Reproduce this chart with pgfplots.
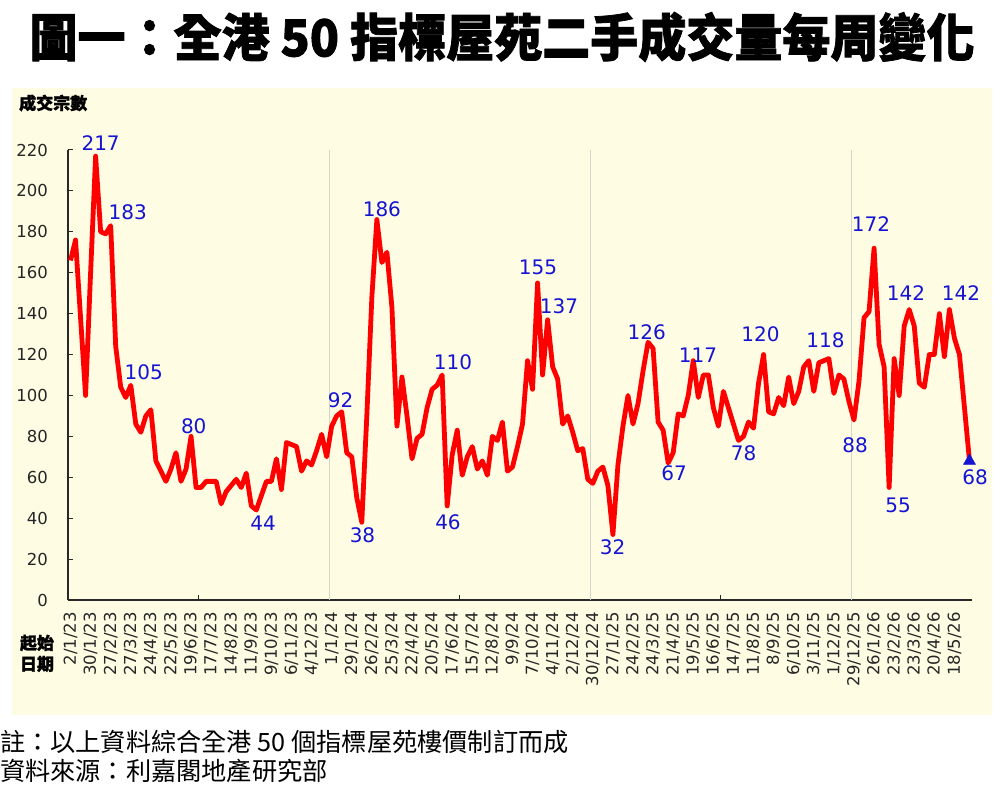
\documentclass[border=0pt]{standalone}
\usepackage{pgfplots}
\pgfplotsset{compat=1.18}
\usepackage{fontspec}
\setmainfont{DejaVu Sans}
\newfontfamily\cjk[BoldFeatures={FakeBold=1.5}]{Noto Sans CJK TC}
\newfontfamily\num{DejaVu Sans}
\definecolor{bgyellow}{RGB}{255,252,228}
\definecolor{lblue}{RGB}{20,20,210}
\definecolor{gridgray}{RGB}{212,212,200}
\definecolor{axisdark}{RGB}{40,40,40}

% weekly transaction counts, week 0 = 2/1/23
\pgfplotstableread{
w v
0 166
1 176
2 138
3 100
4 160
5 217
6 180
7 179
8 183
9 124
10 104
11 99
12 105
13 86
14 82
15 90
16 93
17 68
18 63
19 58
20 64
21 72
22 58
23 64
24 80
25 55
26 55
27 58
28 58
29 58
30 47
31 53
32 56
33 59
34 55
35 62
36 46
37 44
38 51
39 58
40 58
41 69
42 54
43 77
44 76
45 75
46 63
47 68
48 66
49 73
50 81
51 70
52 85
53 90
54 92
55 72
56 70
57 50
58 38
59 90
60 148
61 186
62 165
63 170
64 143
65 85
66 109
67 90
68 69
69 79
70 81
71 94
72 103
73 105
74 110
75 46
76 71
77 83
78 61
79 70
80 75
81 64
82 68
83 61
84 80
85 78
86 87
87 63
88 65
89 75
90 86
91 117
92 103
93 155
94 110
95 137
96 114
97 108
98 86
99 90
100 82
101 73
102 74
103 59
104 57
105 63
106 65
107 56
108 32
109 66
110 85
111 100
112 86
113 96
114 112
115 126
116 123
117 87
118 83
119 67
120 72
121 91
122 90
123 100
124 117
125 99
126 110
127 110
128 94
129 85
130 102
131 94
132 86
133 78
134 80
135 87
136 84
137 106
138 120
139 92
140 91
141 99
142 95
143 109
144 96
145 102
146 114
147 117
148 102
149 116
150 117
151 118
152 101
153 110
154 108
155 97
156 88
157 107
158 138
159 141
160 172
161 125
162 114
163 55
164 118
165 100
166 134
167 142
168 134
169 106
170 104
171 120
172 120
173 140
174 119
175 142
176 128
177 120
178 94
179 68
}\weekly

\begin{document}
\begin{tikzpicture}[x=1pt,y=1pt]
\path[use as bounding box] (0,0) rectangle (1007,787);
\fill[white] (0,0) rectangle (1007,787);
\fill[bgyellow] (12,72) rectangle (992,699);

% title
\node[inner sep=0] at (502,750)
  {\resizebox*{945pt}{50pt}{\cjk\bfseries 圖一：全港 50 指標屋苑二手成交量每周變化}};

% axis captions
\node[anchor=west, inner sep=0] at (19,684)
  {\cjk\bfseries\fontsize{17}{17}\selectfont 成交宗數};
\node[inner sep=0] at (37,144) {\cjk\bfseries\fontsize{17}{17}\selectfont 起始};
\node[inner sep=0] at (37,123) {\cjk\bfseries\fontsize{17}{17}\selectfont 日期};

% footnotes
\node[anchor=west, inner sep=0] at (0,45.5)
  {\cjk\fontsize{25.2}{25.2}\selectfont 註：以上資料綜合全港 50 個指標屋苑樓價制訂而成};
\node[anchor=west, inner sep=0] at (0,16)
  {\cjk\fontsize{25.2}{25.2}\selectfont 資料來源：利嘉閣地產研究部};

\begin{axis}[
  at={(68pt,187pt)}, anchor=south west,
  scale only axis, width=904pt, height=450pt,
  xmin=-0.5, xmax=179.5, ymin=0, ymax=220,
  clip=false,
  axis x line=bottom, axis y line=left,
  axis line style={-, draw=axisdark, line width=1.2pt},
  tick align=inside,
  ytick={0,20,...,220},
  major tick length=5pt,
  minor tick length=5pt,
  y tick style={draw=axisdark, line width=1pt},
  /pgf/number format/assume math mode=true,
  yticklabel style={font=\num\fontsize{16.5}{18}\selectfont, inner sep=0pt,
    xshift=-20pt, text=black!85},
  xtick={0,4,...,176},
  xticklabels={2/1/23,30/1/23,27/2/23,27/3/23,24/4/23,22/5/23,19/6/23,17/7/23,
    14/8/23,11/9/23,9/10/23,6/11/23,4/12/23,1/1/24,29/1/24,26/2/24,25/3/24,
    22/4/24,20/5/24,17/6/24,15/7/24,12/8/24,9/9/24,7/10/24,4/11/24,2/12/24,
    30/12/24,27/1/25,24/2/25,24/3/25,21/4/25,19/5/25,16/6/25,14/7/25,11/8/25,
    8/9/25,6/10/25,3/11/25,1/12/25,29/12/25,26/1/26,23/2/26,23/3/26,20/4/26,
    18/5/26},
  major x tick style={draw=none},
  minor xtick={25.5,51.5,77.5,103.5,129.5,155.5},
  minor x tick style={draw=axisdark, line width=1pt},
  xticklabel style={font=\num\fontsize{16.5}{18}\selectfont, inner sep=0pt,
    yshift=-12pt, rotate=90, anchor=east, text=black!85},
  extra x ticks={51.5,103.5,155.5},
  extra x tick labels={},
  extra x tick style={grid=major, major grid style={draw=gridgray, line width=0.8pt},
    major x tick style={draw=none}},
]
\addplot[red, line width=4.8pt, line join=round, mark=none] table[x=w, y=v] {\weekly};
\addplot[only marks, mark=triangle*, mark size=7pt, color=lblue] coordinates {(179,68)};

\begin{scope}[every node/.style={inner sep=0pt, text=lblue, font=\num\fontsize{20}{20}\selectfont}]
\node at (axis cs:5,217)   [xshift=5pt,   yshift=12.7pt]  {217};
\node at (axis cs:8,183)   [xshift=17pt,  yshift=13.3pt]  {183};
\node at (axis cs:12,105)  [xshift=13pt,  yshift=13.3pt]  {105};
\node at (axis cs:24,80)   [xshift=2.7pt, yshift=10.5pt]  {80};
\node at (axis cs:37,44)   [xshift=6.7pt, yshift=-13.7pt] {44};
\node at (axis cs:54,92)   [xshift=-1pt,  yshift=11.4pt]  {92};
\node at (axis cs:58,38)   [xshift=0.7pt, yshift=-13.2pt] {38};
\node at (axis cs:61,186)  [xshift=5pt,   yshift=10.6pt]  {186};
\node at (axis cs:74,110)  [xshift=10.9pt,yshift=12.5pt]  {110};
\node at (axis cs:75,46)   [xshift=0.8pt, yshift=-16.5pt] {46};
\node at (axis cs:93,155)  [xshift=0.4pt, yshift=15.5pt]  {155};
\node at (axis cs:95,137)  [xshift=11.4pt,yshift=13.8pt]  {137};
\node at (axis cs:108,32)  [xshift=-0.4pt,yshift=-12.9pt] {32};
\node at (axis cs:115,126) [xshift=-1.3pt,yshift=9.8pt]   {126};
\node at (axis cs:119,67)  [xshift=5.9pt, yshift=-10.5pt] {67};
\node at (axis cs:124,117) [xshift=4.8pt, yshift=5.4pt]   {117};
\node at (axis cs:133,78)  [xshift=5.1pt, yshift=-12.8pt] {78};
\node at (axis cs:138,120) [xshift=-3pt,  yshift=20.3pt]  {120};
\node at (axis cs:151,118) [xshift=-3.3pt,yshift=18.2pt]  {118};
\node at (axis cs:156,88)  [xshift=1.1pt, yshift=-25.5pt] {88};
\node at (axis cs:160,172) [xshift=-3pt,  yshift=24.3pt]  {172};
\node at (axis cs:163,55)  [xshift=8.9pt, yshift=-17.5pt] {55};
\node at (axis cs:167,142) [xshift=-3.2pt,yshift=16.1pt]  {142};
\node at (axis cs:175,142) [xshift=11.6pt,yshift=16.1pt]  {142};
\node at (axis cs:179,68)  [xshift=5.6pt, yshift=-16.5pt] {68};
\end{scope}
\end{axis}
\end{tikzpicture}
\end{document}
